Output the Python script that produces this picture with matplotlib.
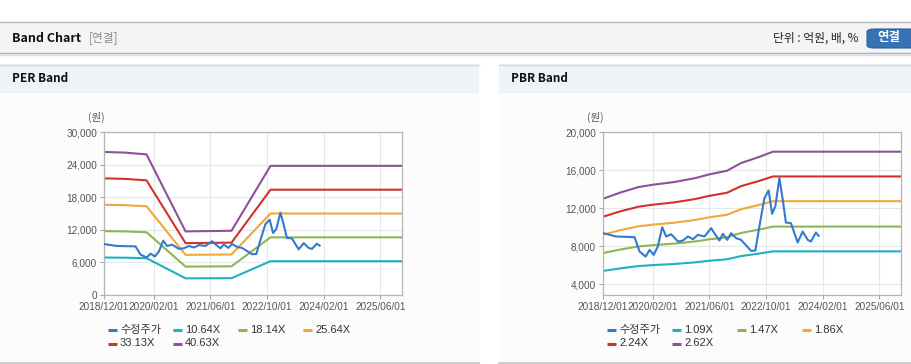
import numpy as np
import matplotlib
matplotlib.use('Agg')
import matplotlib.pyplot as plt
from matplotlib.patches import Rectangle, FancyBboxPatch
from matplotlib.lines import Line2D

# price (수정주가), shared by both panels
price_dates = np.array([
    '2018-12-01', '2019-03-24', '2019-08-29', '2019-10-11', '2019-12-02', '2020-01-06',
    '2020-02-10', '2020-03-16', '2020-04-23', '2020-05-27', '2020-07-09', '2020-09-05',
    '2020-10-18', '2020-11-30', '2021-01-12', '2021-02-24', '2021-04-21', '2021-06-17',
    '2021-07-30', '2021-08-28', '2021-09-26', '2021-11-03', '2021-12-06', '2022-01-19',
    '2022-03-01', '2022-04-13', '2022-05-26', '2022-07-02', '2022-08-06', '2022-09-18',
    '2022-10-25', '2022-11-23', '2022-12-21', '2023-01-25', '2023-02-23', '2023-03-22',
    '2023-05-04', '2023-07-01', '2023-08-13', '2023-09-25', '2023-10-23', '2023-12-05',
    '2023-12-28'], dtype='datetime64[D]')
price_values = [
    9370, 9020, 8950, 7440, 6910, 7610,
    7090, 7970, 10000, 9020, 9260, 8490,
    8600, 9020, 8740, 9190, 9020, 9890,
    9090, 8600, 9300, 8670, 9370, 8840,
    8670, 8100, 7510, 7540, 10070, 13050,
    13860, 11400, 12180, 15160, 12880, 10490,
    10420, 8390, 9540, 8670, 8490, 9440,
    9090]

# PER band: EPS base and multiples
eps_dates = np.array(['2018-12-01', '2019-06-01', '2019-12-01', '2020-11-01',
                      '2021-12-01', '2022-11-01', '2025-12-31'], dtype='datetime64[D]')
eps_values = np.array([648, 645, 637, 288, 291, 585, 585])
per_multiples = [10.64, 18.14, 25.64, 33.13, 40.63]

# PBR band: BPS base and multiples
bps_dates = np.array(['2018-12-01', '2019-05-01', '2019-10-01', '2020-02-01', '2020-08-01',
                      '2021-02-01', '2021-06-01', '2021-11-01', '2022-03-01', '2022-08-01',
                      '2022-12-01', '2025-12-31'], dtype='datetime64[D]')
bps_values = np.array([4955, 5209, 5424, 5518, 5625, 5785, 5933, 6080, 6388, 6629, 6844, 6844])
pbr_multiples = [1.09, 1.47, 1.86, 2.24, 2.62]

tick_dates = np.array(['2018-12-01', '2020-02-01', '2021-06-01', '2022-10-01',
                       '2024-02-01', '2025-06-01'], dtype='datetime64[D]')
tick_labels = [str(d).replace('-', '/') for d in tick_dates]

price_color = '#3579cf'
band_colors = ['#1fb1c2', '#8cb653', '#f1a73a', '#d2322d', '#8e509b']

W, H = 912, 364
fig = plt.figure(figsize=(W / 100, H / 100), dpi=100)
fig.patch.set_facecolor('white')

KR = ['Noto Sans CJK KR', 'DejaVu Sans']
NARROW = ['Liberation Sans Narrow', 'Liberation Sans', 'DejaVu Sans']
LEG = ['Liberation Sans', 'Noto Sans CJK KR', 'DejaVu Sans']


def rect(x0, y0, x1, y1, color, z=0):
    fig.add_artist(Rectangle((x0 / W, 1 - y1 / H), (x1 - x0) / W, (y1 - y0) / H,
                             transform=fig.transFigure, facecolor=color,
                             edgecolor='none', zorder=z))


def hline(x0, x1, y, color, lw=1.0):
    fig.add_artist(Line2D([x0 / W, x1 / W], [1 - y / H, 1 - y / H],
                          transform=fig.transFigure, color=color, lw=lw))


def text(x, y, s, **kw):
    fig.text(x / W, 1 - y / H, s, **kw)


# top header bar
rect(0, 22, W, 53, '#f4f4f4')
hline(0, W, 22, '#b8b8b8')
hline(0, W, 53, '#b0b0b0')
hline(0, W, 54.5, '#dcdcdc')
text(12, 38, 'Band Chart', family=KR, fontsize=9, weight='bold', va='center', color='#111111')
text(89, 38, '[연결]', family=KR, fontsize=8.5, va='center', color='#8a8a8a')
text(859, 38, '단위 : 억원, 배, %', family=KR, fontsize=8.5, va='center', ha='right', color='#222222')
fig.add_artist(FancyBboxPatch((867 / W, 1 - 48 / H), 50 / W, 19 / H,
                              boxstyle='round,pad=0,rounding_size=0.008',
                              transform=fig.transFigure, facecolor='#3673b3',
                              edgecolor='#2a5f99', lw=0.8))
text(889, 38, '연결', family=KR, fontsize=9, weight='bold', va='center', ha='center', color='white')

panels = [
    dict(x0=0, x1=479, title='PER Band', base_d=eps_dates, base_v=eps_values,
         mults=per_multiples, ylim=(0, 30000), yticks=range(0, 30001, 6000), ax_x=104),
    dict(x0=499, x1=W, title='PBR Band', base_d=bps_dates, base_v=bps_values,
         mults=pbr_multiples, ylim=(2874, 20000), yticks=range(4000, 20001, 4000), ax_x=603),
]

for p in panels:
    x0, x1 = p['x0'], p['x1']
    rect(x0, 64, x1, 93, '#eff2f6')
    rect(x0, 93, x1, 362, '#fcfcfc')
    hline(x0, x1, 64.5, '#d4d8de')
    hline(x0, x1, 362.5, '#cfcfcf', lw=1.5)
    text(x0 + 12, 79, p['title'], family=KR, fontsize=8.5, weight='bold', va='center', color='#111111')

    ax = fig.add_axes([p['ax_x'] / W, 1 - 295 / H, 298 / W, 163 / H])
    ax.set_facecolor('white')
    for d_ in ax.spines.values():
        d_.set_color('#b5b5b5')
        d_.set_linewidth(0.9)
    for m, c in zip(p['mults'], band_colors):
        ax.plot(p['base_d'], p['base_v'] * m, color=c, lw=1.5, zorder=2)
    ax.plot(price_dates, price_values, color=price_color, lw=1.5, zorder=3)

    ax.set_xlim(np.datetime64('2018-12-01'), np.datetime64('2025-12-05'))
    ax.set_ylim(*p['ylim'])
    ax.set_xticks(tick_dates)
    ax.set_xticklabels(tick_labels)
    ax.set_yticks(list(p['yticks']))
    ax.set_yticklabels([f'{v:,}' for v in p['yticks']])
    ax.grid(True, color='#e6e6e6', lw=0.8)
    ax.set_axisbelow(True)
    ax.tick_params(length=3, width=0.8, color='#aaaaaa', labelcolor='#555555',
                   labelsize=7.2, pad=2)
    for lab in ax.get_xticklabels() + ax.get_yticklabels():
        lab.set_family(NARROW)

    text(p['ax_x'] - 16, 117, '(원)', family=KR, fontsize=7.5, va='center', color='#555555')

    # legend
    labels = ['수정주가'] + [f'{m:.2f}X' for m in p['mults']]
    colors = [price_color] + band_colors
    for i, (lab, c) in enumerate(zip(labels, colors)):
        col, row = i % 4, i // 4
        lx = x0 + 108 + col * 65
        ly = 330 + row * 13.5
        fig.add_artist(Line2D([lx / W, (lx + 9) / W], [1 - ly / H, 1 - ly / H],
                              transform=fig.transFigure, color=c, lw=2.2,
                              solid_capstyle='butt'))
        text(lx + 12, ly, lab, family=LEG, fontsize=8, va='center', color='#333333')

fig.savefig('out.png', dpi=100, facecolor=fig.get_facecolor())
